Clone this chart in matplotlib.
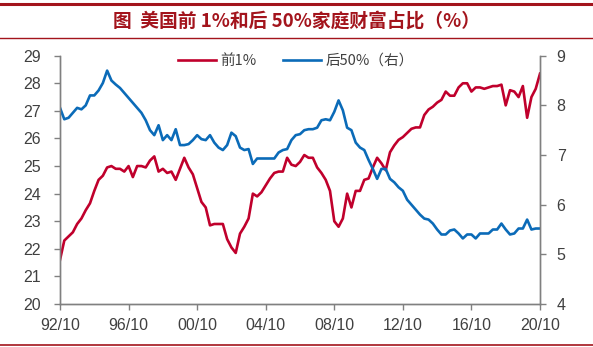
import matplotlib
matplotlib.use("Agg")
import matplotlib.pyplot as plt
import numpy as np

plt.rcParams['font.family'] = ['Liberation Sans', 'Noto Sans CJK SC', 'DejaVu Sans']

# quarterly, 1992Q4 .. 2020Q4
tick_labels = ['92/10', '96/10', '00/10', '04/10', '08/10', '12/10', '16/10', '20/10']

top1 = [21.6, 22.3, 22.45, 22.6, 22.9, 23.1, 23.4, 23.65, 24.1, 24.5,
        24.65, 24.95, 25.0, 24.9, 24.9, 24.8, 25.0, 24.6, 25.0, 25.0,
        24.95, 25.2, 25.35, 24.8, 24.9, 24.75, 24.8, 24.5, 24.9, 25.3,
        24.95, 24.7, 24.2, 23.7, 23.5, 22.85, 22.9, 22.9, 22.9, 22.35,
        22.05, 21.85, 22.55, 22.8, 23.1, 24.0, 23.9, 24.05, 24.3, 24.55,
        24.75, 24.8, 24.8, 25.3, 25.05, 25.0, 25.15, 25.4, 25.3, 25.3,
        24.95, 24.75, 24.5, 24.1, 23.0, 22.8, 23.1, 24.0, 23.5, 24.1,
        24.1, 24.5, 24.55, 24.95, 25.3, 25.1, 24.85, 25.5, 25.75, 25.95,
        26.05, 26.2, 26.35, 26.4, 26.4, 26.85, 27.05, 27.15, 27.3, 27.4,
        27.7, 27.55, 27.55, 27.85, 28.0, 28.0, 27.7, 27.85, 27.85, 27.8,
        27.85, 27.9, 27.9, 27.95, 27.2, 27.75, 27.7, 27.5, 27.9, 26.75,
        27.5, 27.8, 28.35]

bottom50 = [7.95, 7.72, 7.75, 7.85, 7.95, 7.92, 8.0, 8.2, 8.2, 8.3,
            8.45, 8.7, 8.5, 8.42, 8.35, 8.25, 8.15, 8.05, 7.95, 7.85,
            7.7, 7.5, 7.4, 7.6, 7.3, 7.4, 7.3, 7.52, 7.2, 7.2,
            7.22, 7.3, 7.4, 7.32, 7.3, 7.4, 7.25, 7.15, 7.1, 7.2,
            7.45, 7.38, 7.15, 7.1, 7.12, 6.82, 6.93, 6.93, 6.93, 6.93,
            6.93, 7.05, 7.1, 7.12, 7.3, 7.4, 7.42, 7.5, 7.52, 7.52,
            7.55, 7.7, 7.72, 7.7, 7.87, 8.1, 7.9, 7.55, 7.5, 7.25,
            7.15, 7.1, 6.9, 6.72, 6.52, 6.72, 6.72, 6.52, 6.45, 6.35,
            6.28, 6.1, 6.0, 5.9, 5.8, 5.72, 5.7, 5.62, 5.5, 5.4,
            5.4, 5.48, 5.5, 5.42, 5.32, 5.4, 5.4, 5.32, 5.42, 5.42,
            5.42, 5.5, 5.5, 5.62, 5.5, 5.4, 5.42, 5.52, 5.52, 5.7,
            5.5, 5.52, 5.52]

red = '#C0002C'
blue = '#0B6BB8'
dark_red = '#A3141C'
grey = '#808080'
txt = '#404040'

x = np.arange(len(top1))

fig = plt.figure(figsize=(5.93, 3.47), dpi=100)
ax = fig.add_axes([60/593, 1-304/347, 480/593, (304-55.7)/347])
ax2 = ax.twinx()

l1, = ax.plot(x, top1, color=red, lw=1.9, label='前1%')
l2, = ax2.plot(x, bottom50, color=blue, lw=1.9, label='后50%（右）')

ax.set_xlim(0, len(top1) - 1)
ax.set_ylim(20, 29)
ax.set_yticks(range(20, 30))
ax2.set_ylim(4, 9)
ax2.set_yticks(range(4, 10))
ax.set_xticks(np.arange(0, len(top1), 16))
ax.set_xticklabels(tick_labels)

for a in (ax, ax2):
    a.spines['top'].set_visible(False)
    for s in ('left', 'right', 'bottom'):
        a.spines[s].set_color(grey)
        a.spines[s].set_linewidth(1.0)
    a.tick_params(colors=grey, labelcolor=txt, labelsize=11.5, length=4, width=1)
ax.tick_params(axis='y', pad=10)
ax.tick_params(axis='x', pad=6)
ax2.tick_params(axis='y', pad=8)

fig.legend(handles=[l1, l2], loc='center', bbox_to_anchor=(296/593, 1-61/347),
           ncol=2, frameon=False, handlelength=2.6, columnspacing=1.8,
           handletextpad=0.3, prop={'family': ['Noto Sans CJK SC'], 'size': 10.5},
           labelcolor=txt)

# header / footer rules
fig.add_artist(plt.Line2D([0, 1], [1-4/347, 1-4/347], color=dark_red, lw=2.2))
fig.add_artist(plt.Line2D([0, 1], [1-38/347, 1-38/347], color=dark_red, lw=1.0))
fig.add_artist(plt.Line2D([0, 1], [1-345/347, 1-345/347], color=dark_red, lw=1.2))
fig.text(0.5, 1-21/347, '图  美国前 1%和后 50%家庭财富占比（%）', ha='center', va='center',
         fontsize=13.5, fontweight='bold', color=dark_red,
         family=['Noto Sans CJK SC', 'DejaVu Sans'])

fig.savefig('out.png', dpi=100, facecolor='white')
